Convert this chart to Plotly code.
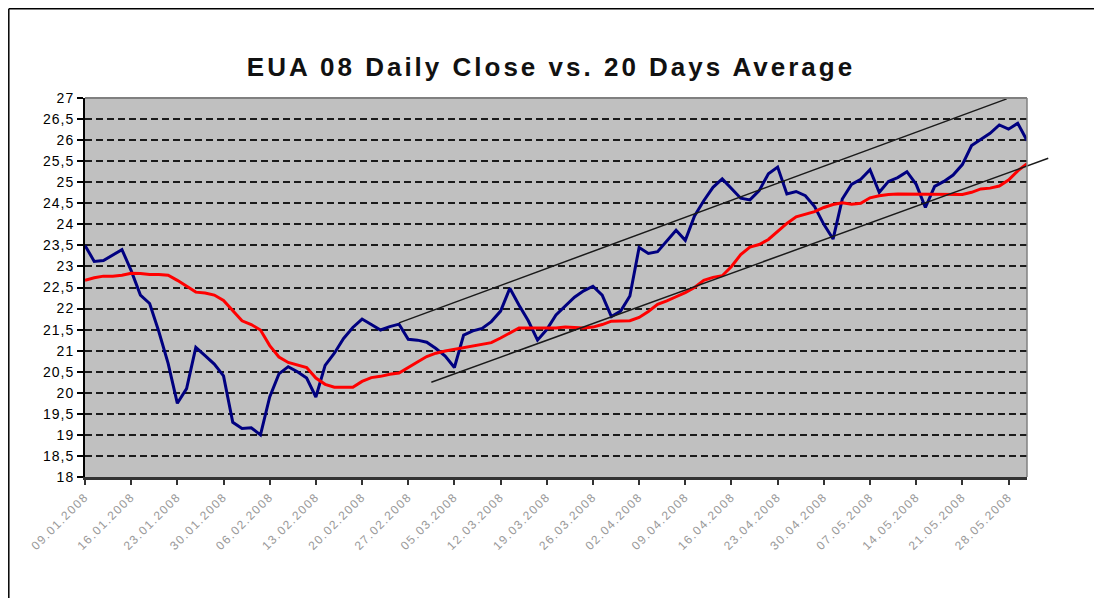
import pandas as pd
import plotly.graph_objects as go

# ---------------- data ----------------
dates = pd.bdate_range("2008-01-09", "2008-05-30").strftime("%d.%m.%Y").tolist()

daily_close = [
    23.50, 23.12, 23.14, 23.28, 23.40, 22.90, 22.32, 22.12, 21.45, 20.70,
    19.75, 20.10, 21.08, 20.88, 20.68, 20.40, 19.30, 19.15, 19.17, 19.00,
    19.90, 20.45, 20.62, 20.50, 20.35, 19.90, 20.65, 20.94, 21.29, 21.55,
    21.75, 21.62, 21.49, 21.57, 21.63, 21.27, 21.25, 21.20, 21.05, 20.87,
    20.60, 21.37, 21.47, 21.53, 21.69, 21.94, 22.48, 22.08, 21.71, 21.25,
    21.50, 21.85, 22.07, 22.27, 22.42, 22.53, 22.32, 21.81, 21.94, 22.30,
    23.45, 23.31, 23.35, 23.60, 23.86, 23.62, 24.20, 24.56, 24.88, 25.08,
    24.84, 24.62, 24.58, 24.80, 25.20, 25.36, 24.72, 24.78, 24.68, 24.42,
    24.00, 23.65, 24.60, 24.95, 25.07, 25.30, 24.76, 25.02, 25.11, 25.25,
    24.95, 24.40, 24.90, 25.02, 25.17, 25.42, 25.87, 26.01, 26.16, 26.36,
    26.26, 26.40, 25.99,
]

avg_20d = [
    22.67, 22.73, 22.77, 22.77, 22.79, 22.84, 22.83, 22.81, 22.81, 22.79,
    22.67, 22.52, 22.39, 22.37, 22.32, 22.19, 21.95, 21.71, 21.62, 21.49,
    21.12, 20.85, 20.72, 20.66, 20.60, 20.35, 20.20, 20.13, 20.13, 20.13,
    20.27, 20.36, 20.39, 20.44, 20.47, 20.61, 20.73, 20.86, 20.94, 20.99,
    21.03, 21.08, 21.12, 21.16, 21.19, 21.30, 21.42, 21.54, 21.54, 21.54,
    21.54, 21.54, 21.56, 21.55, 21.54, 21.56, 21.62, 21.70, 21.71, 21.71,
    21.79, 21.93, 22.10, 22.18, 22.28, 22.38, 22.50, 22.67, 22.74, 22.78,
    23.00, 23.28, 23.46, 23.52, 23.64, 23.84, 24.02, 24.18, 24.24, 24.30,
    24.40, 24.47, 24.51, 24.48, 24.50, 24.63, 24.68, 24.71, 24.72, 24.72,
    24.72, 24.72, 24.72, 24.72, 24.72, 24.71, 24.76, 24.84, 24.86, 24.91,
    25.05, 25.27, 25.44,
]

# trend channel lines: (day index, value) endpoints
upper_channel_idx = [34.0, 99.8]
upper_channel_val = [21.66, 26.98]
lower_channel_idx = [37.5, 104.3]
lower_channel_val = [20.25, 25.57]

y_tick_vals = [18, 18.5, 19, 19.5, 20, 20.5, 21, 21.5, 22, 22.5,
               23, 23.5, 24, 24.5, 25, 25.5, 26, 26.5, 27]
y_tick_text = ["18", "18,5", "19", "19,5", "20", "20,5", "21", "21,5", "22", "22,5",
               "23", "23,5", "24", "24,5", "25", "25,5", "26", "26,5", "27"]
x_tick_vals = dates[::5]

title_text = "EUA 08 Daily Close vs. 20 Days Average"

# ---------------- figure ----------------
# page body has an 8px margin; figure sized to fit the 1102x598 window
W, H = 1094, 590
ML, MR, MT, MB = 77, 75, 90, 121
X_MAX = len(dates) - 1
Y_MIN, Y_MAX = 18, 27

fig = go.Figure()
fig.add_trace(go.Scatter(x=dates, y=daily_close, mode="lines",
                         line=dict(color="#000080", width=3), name="Daily Close"))
fig.add_trace(go.Scatter(x=dates, y=avg_20d, mode="lines",
                         line=dict(color="#ff0000", width=3), name="20 Days Average"))


def to_paper(idx, val):
    return idx / X_MAX, (val - Y_MIN) / (Y_MAX - Y_MIN)


shapes = []
for xs, ys in [(upper_channel_idx, upper_channel_val), (lower_channel_idx, lower_channel_val)]:
    x0, y0 = to_paper(xs[0], ys[0])
    x1, y1 = to_paper(xs[1], ys[1])
    shapes.append(dict(type="line", xref="paper", yref="paper", x0=x0, y0=y0, x1=x1, y1=y1,
                       line=dict(color="#1a1a1a", width=1.5), layer="above"))

pw = W - ML - MR
ph = H - MT - MB
# plot area top/right border (grey)
shapes.append(dict(type="line", xref="paper", yref="paper", x0=0, y0=1, x1=1, y1=1,
                   line=dict(color="#808080", width=2), layer="above"))
shapes.append(dict(type="line", xref="paper", yref="paper", x0=1, y0=0, x1=1, y1=1,
                   line=dict(color="#808080", width=1.5), layer="above"))
# chart area border (left and top visible)
bx = (0.8 - ML) / pw
by = 1 + (MT - 0.8) / ph
shapes.append(dict(type="line", xref="paper", yref="paper", x0=bx, y0=by, x1=bx, y1=-MB / ph - 0.05,
                   line=dict(color="#000000", width=1.5)))
shapes.append(dict(type="line", xref="paper", yref="paper", x0=bx, y0=by, x1=1 + MR / pw + 0.05, y1=by,
                   line=dict(color="#000000", width=1.5)))

fig.update_layout(
    width=W, height=H,
    margin=dict(l=ML, r=MR, t=MT, b=MB, autoexpand=False),
    paper_bgcolor="white",
    plot_bgcolor="#c0c0c0",
    showlegend=False,
    shapes=shapes,
    title=dict(text='<span style="letter-spacing:3px">' + title_text + '</span>',
               x=543 / W, xanchor="center", y=1 - 59 / H, yanchor="middle",
               font=dict(family="Liberation Sans, Arial", size=26, color="#111111", weight="bold")),
    font=dict(family="Liberation Sans, Arial"),
)

fig.update_xaxes(
    type="category", range=[0, X_MAX],
    tickmode="array", tickvals=x_tick_vals,
    ticktext=['<span style="letter-spacing:1.5px">' + t + '</span>' for t in x_tick_vals],
    tickangle=-45, tickfont=dict(size=12, color="#999999"),
    ticks="outside", ticklen=5, tickwidth=1.5, tickcolor="#333333",
    showline=True, linecolor="#333333", linewidth=3,
    showgrid=False, zeroline=False, automargin=False,
)
fig.update_yaxes(
    range=[Y_MIN, Y_MAX],
    tickmode="array", tickvals=y_tick_vals,
    ticktext=['<span style="letter-spacing:1px">' + t + '</span>' for t in y_tick_text],
    tickfont=dict(size=14, color="black"),
    ticks="outside", ticklen=6, tickwidth=1.5, tickcolor="black",
    showline=True, linecolor="black", linewidth=2,
    showgrid=True, gridcolor="#1a1a1a", gridwidth=2, griddash="7px,4px",
    zeroline=False, automargin=False,
)

fig.write_html("out.html")
